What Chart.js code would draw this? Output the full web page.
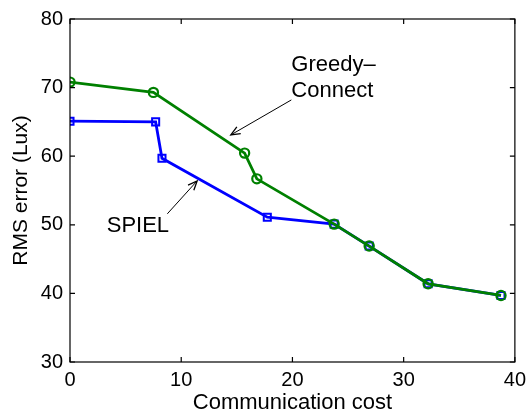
<!DOCTYPE html>
<html>
<head>
<meta charset="utf-8">
<script src="https://cdn.jsdelivr.net/npm/chart.js@4.4.1/dist/chart.umd.min.js"></script>
<style>
  html, body { margin: 0; padding: 0; background: #fff; }
  #wrap { width: 532px; height: 417px; }
</style>
</head>
<body>
<div id="wrap"><canvas id="c" width="532" height="417"></canvas></div>
<script>
// Communication cost vs. RMS error for the two schemes
const greedyCost = [0, 7.5, 15.7, 16.8, 23.75, 26.9, 32.2, 38.75];
const greedyRms  = [70.8, 69.3, 60.45, 56.7, 50.1, 46.9, 41.4, 39.7];
const spielCost  = [0, 7.7, 8.27, 17.74, 23.75, 26.9, 32.2, 38.75];
const spielRms   = [65.1, 65.0, 59.7, 51.1, 50.1, 46.9, 41.4, 39.7];

const xTicks = [0, 10, 20, 30, 40];
const yTicks = [30, 40, 50, 60, 70, 80];

const FONT = "'Liberation Sans', Arial, Helvetica, sans-serif";

const toPoints = (xs, ys) => xs.map((x, i) => ({ x, y: ys[i] }));

// Text labels with arrows pointing at each curve (data coordinates)
const callouts = [
  { lines: ['Greedy\u2013', 'Connect'], at: [19.9, 72.45], from: [19.9, 68.2], to: [14.46, 63.1] },
  { lines: ['SPIEL'], at: [3.3, 48.9], from: [8.75, 51.6], to: [11.43, 56.4] }
];

const framePlugin = {
  id: 'frame',
  afterDraw(chart) {
    const { ctx, chartArea: a, scales: { x, y } } = chart;
    ctx.save();
    ctx.strokeStyle = '#000';
    ctx.lineWidth = 1.2;
    ctx.strokeRect(a.left, a.top, a.right - a.left, a.bottom - a.top);
    const tl = 5;
    ctx.beginPath();
    xTicks.forEach(v => {
      const px = x.getPixelForValue(v);
      ctx.moveTo(px, a.bottom); ctx.lineTo(px, a.bottom - tl);
      ctx.moveTo(px, a.top); ctx.lineTo(px, a.top + tl);
    });
    yTicks.forEach(v => {
      const py = y.getPixelForValue(v);
      ctx.moveTo(a.left, py); ctx.lineTo(a.left + tl, py);
      ctx.moveTo(a.right, py); ctx.lineTo(a.right - tl, py);
    });
    ctx.stroke();

    // callouts
    ctx.fillStyle = '#000';
    ctx.font = '22px ' + FONT;
    ctx.textAlign = 'left';
    ctx.textBaseline = 'alphabetic';
    callouts.forEach(c => {
      const tx = x.getPixelForValue(c.at[0]);
      const ty = y.getPixelForValue(c.at[1]);
      c.lines.forEach((s, i) => ctx.fillText(s, tx, ty + i * 26));
      const x0 = x.getPixelForValue(c.from[0]), y0 = y.getPixelForValue(c.from[1]);
      const x1 = x.getPixelForValue(c.to[0]), y1 = y.getPixelForValue(c.to[1]);
      ctx.lineWidth = 1;
      ctx.beginPath();
      ctx.moveTo(x0, y0); ctx.lineTo(x1, y1);
      ctx.stroke();
      const ang = Math.atan2(y1 - y0, x1 - x0);
      const hl = 10, hw = 0.4;
      ctx.beginPath();
      ctx.moveTo(x1 - hl * Math.cos(ang - hw), y1 - hl * Math.sin(ang - hw));
      ctx.lineTo(x1, y1);
      ctx.lineTo(x1 - hl * Math.cos(ang + hw), y1 - hl * Math.sin(ang + hw));
      ctx.lineWidth = 1.3;
      ctx.stroke();
    });
    ctx.restore();
  }
};

new Chart(document.getElementById('c'), {
  type: 'line',
  data: {
    datasets: [
      {
        label: 'Greedy-Connect',
        data: toPoints(greedyCost, greedyRms),
        borderColor: '#008000',
        borderWidth: 2.8,
        pointStyle: 'circle',
        pointRadius: 4.6,
        pointBorderWidth: 2.2,
        pointBorderColor: '#008000',
        pointBackgroundColor: 'rgba(0,0,0,0)',
        fill: false,
        tension: 0,
        order: 0
      },
      {
        label: 'SPIEL',
        data: toPoints(spielCost, spielRms),
        borderColor: '#0000ff',
        borderWidth: 2.8,
        pointStyle: 'rect',
        pointRadius: 5,
        pointBorderWidth: 2,
        pointBorderColor: '#0000ff',
        pointBackgroundColor: 'rgba(0,0,0,0)',
        fill: false,
        tension: 0,
        order: 1
      }
    ]
  },
  options: {
    responsive: false,
    animation: false,
    layout: { padding: { top: 15, right: 14, left: 0, bottom: 0 } },
    plugins: { legend: { display: false }, tooltip: { enabled: false } },
    scales: {
      x: {
        type: 'linear',
        min: 0, max: 40,
        afterBuildTicks: s => { s.ticks = xTicks.map(v => ({ value: v })); },
        afterFit: s => { s.height = 55; },
        grid: { display: false, drawTicks: false },
        border: { display: false },
        ticks: { color: '#000', font: { family: FONT, size: 20 }, padding: 6, maxRotation: 0 },
        title: { display: true, text: 'Communication cost', color: '#000', font: { family: FONT, size: 22 }, padding: { top: 0, bottom: 1 } }
      },
      y: {
        type: 'linear',
        min: 30, max: 80,
        afterBuildTicks: s => { s.ticks = yTicks.map(v => ({ value: v })); },
        afterFit: s => { s.width = 70; },
        grid: { display: false, drawTicks: false },
        border: { display: false },
        ticks: { color: '#000', font: { family: FONT, size: 20 }, padding: 7 },
        title: { display: true, text: 'RMS error (Lux)', color: '#000', font: { family: FONT, size: 21 }, padding: { top: 9, bottom: 0 } }
      }
    }
  },
  plugins: [framePlugin]
});
</script>
</body>
</html>
